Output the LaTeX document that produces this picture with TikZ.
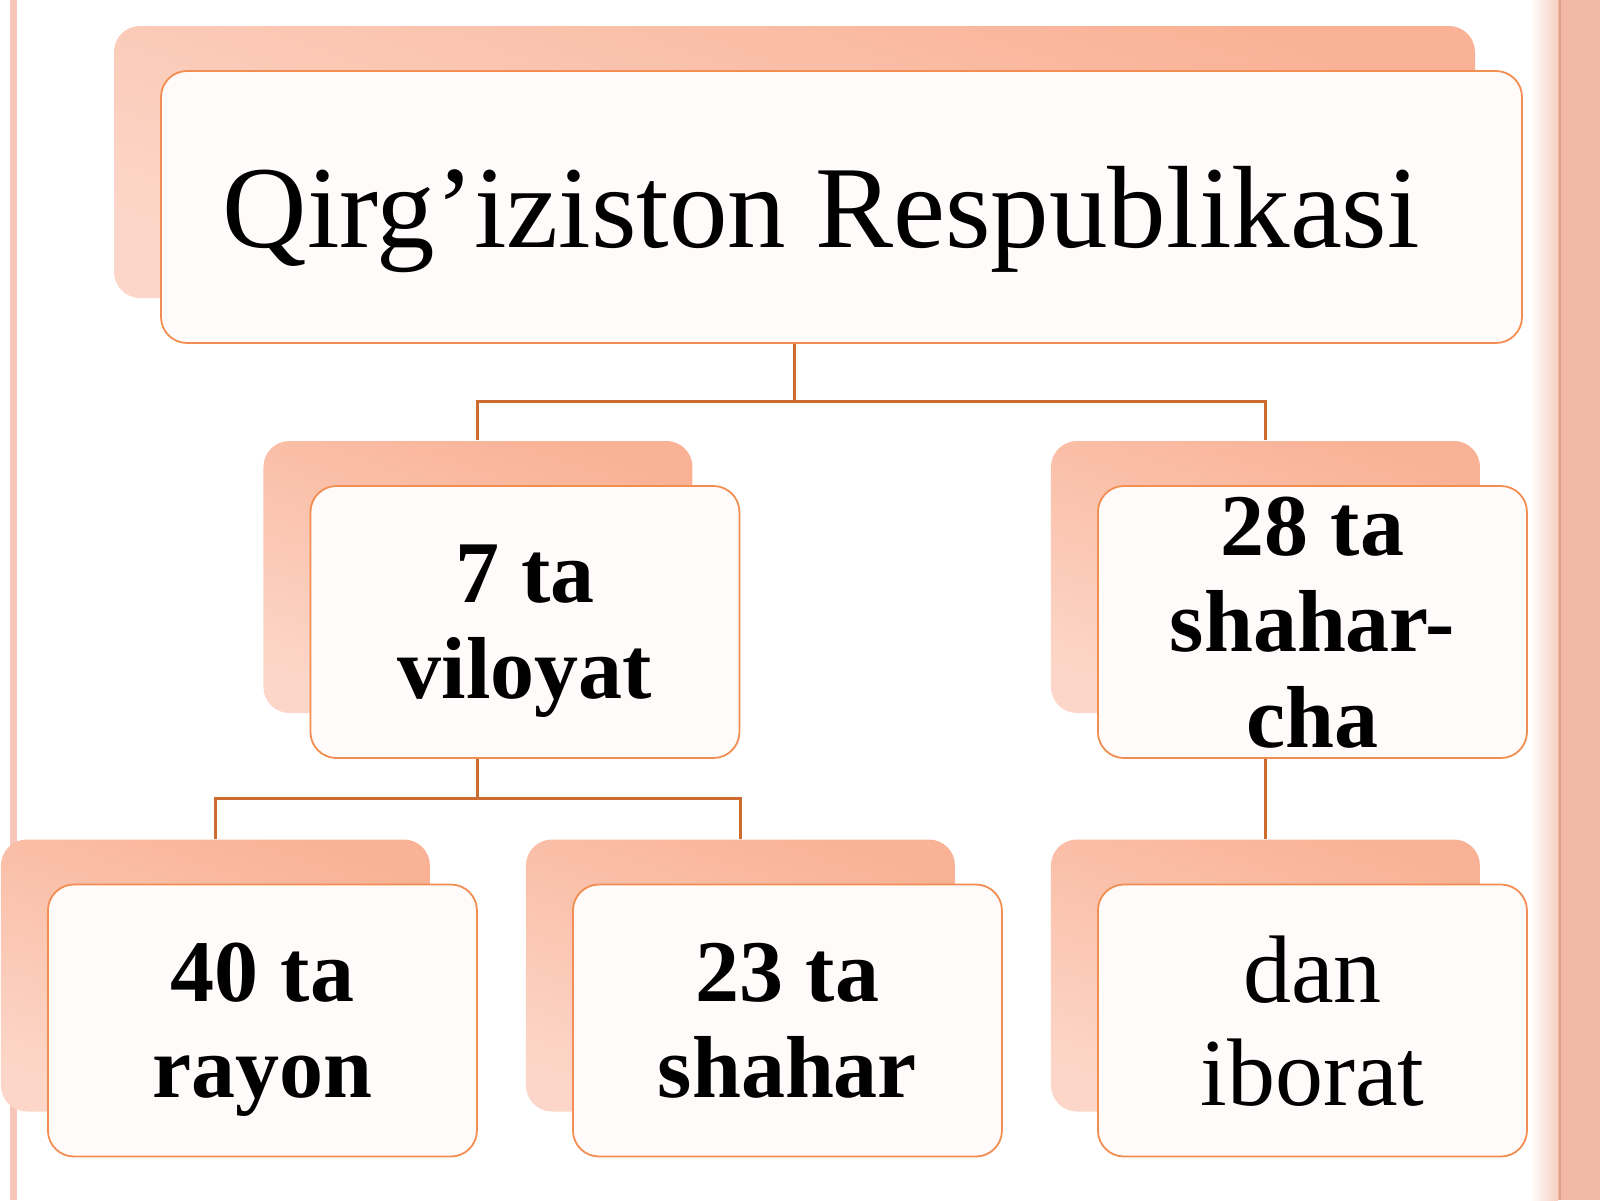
\documentclass[tikz,border=0pt]{standalone}
\usepackage{fontspec}
\setmainfont{Liberation Serif}
\usetikzlibrary{trees, shadows}
\definecolor{boxline}{RGB}{242,142,82}
\definecolor{boxfill}{RGB}{255,251,250}
\definecolor{backtop}{RGB}{249,178,150}
\definecolor{backlow}{RGB}{252,214,200}
\definecolor{forkline}{RGB}{204,108,48}
\definecolor{sidepink}{RGB}{246,198,184}
\definecolor{bandpink}{RGB}{242,186,166}
\definecolor{bandline}{RGB}{222,160,140}
\tikzset{fork drop/.store in=\forkdrop, fork drop=20pt}
\tikzstyle{block} = [rectangle, draw=boxline, line width=0.9pt, fill=boxfill,
    rounded corners=13pt, inner sep=0pt, minimum width=214.5pt, minimum height=136pt,
    align=center, text depth=0pt, font=\fontsize{44}{48}\selectfont\bfseries,
    general shadow={shadow xshift=-23.5pt, shadow yshift=22.5pt,
      top color=backtop, bottom color=backlow, shading angle=-20}]
\tikzstyle{heading} = [block, minimum width=680.5pt, font=\fontsize{58.5}{64}\selectfont]

\begin{document}
\begin{tikzpicture}[
level 1/.style = {level distance=207.5pt, sibling distance=393.75pt, nodes={xshift=38.6pt}, fork drop=29pt},
level 2/.style = {level distance=199.25pt, sibling distance=262.5pt, nodes={xshift=-38.6pt}, fork drop=20pt},
edge from parent/.style = {draw=forkline, line width=1.5pt},
edge from parent path = {([xshift=-23.5pt]\tikzparentnode.south) -- +(0pt,-\forkdrop)
   -| ([xshift=-23.5pt, yshift=22.5pt]\tikzchildnode.north)}
                        ]
\useasboundingbox (0,0) rectangle (800pt,-600pt);
% page edges
\draw [sidepink, line width=3.5pt] (6.75pt,0) -- (6.75pt,-600pt);
\shade [left color=white, right color=bandpink!70] (765pt,0) rectangle (779pt,-600pt);
\fill [bandpink] (779pt,0) rectangle (800pt,-600pt);
\draw [bandline, line width=1.2pt] (780pt,0) -- (780pt,-600pt);

\node [heading] (kg) at (420.75pt,-103.5pt) {Qirg’iziston Respublikasi\hspace*{20pt}}
  child { %level 1
    node [block] (vil) {7 ta\\viloyat}
    child { %level 2
      node [block] (ray) {40 ta\\rayon}
    }
    child { %level 2
      node [block] (shr) {23 ta\\shahar}
    }
  }
  child { %level 1
    node [block] (shc) {28 ta\\shahar-\\cha}
    child { %level 2
      node [block, font=\fontsize{48}{51.5}\selectfont] (ibr) {dan\\iborat}
    }
  };
\end{tikzpicture}
\end{document}
